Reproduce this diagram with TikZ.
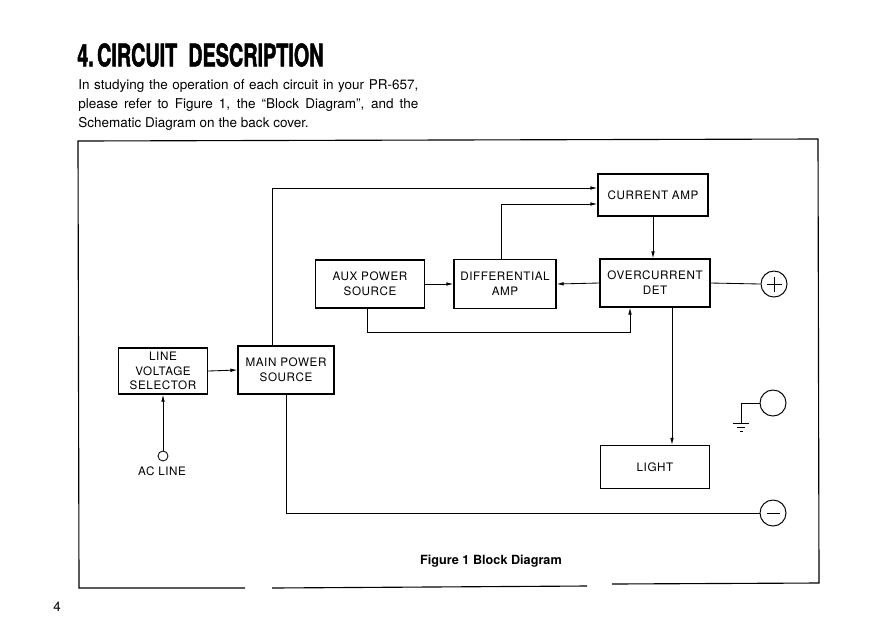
\documentclass[tikz,border=0pt]{standalone}
\usepackage{fontspec}
\setmainfont{TeX Gyre Heros}
\usepackage{tikz}
\usetikzlibrary{arrows.meta,calc}
\tikzset{
  blk/.style={rectangle, draw, line width=0.9pt, minimum width=2.75cm, minimum height=1.2cm,
              inner sep=1pt, font=\fontsize{8.3}{10.5}\selectfont\addfontfeatures{LetterSpace=5},
              align=center},
  tarr/.style={-{Latex[length=5pt,width=2.6pt]}, line width=0.6pt},
  tline/.style={line width=0.6pt},
  term/.style={circle, draw, line width=0.7pt, minimum size=0.65cm, inner sep=0pt},
}
\begin{document}
\begin{tikzpicture}[x=0.025cm, y=-0.025cm]
  \useasboundingbox (0,0) rectangle (893,634);

  % Heading and text
  \node[anchor=west, inner sep=0pt] (title) at (77,55)
    {\scalebox{0.64}[1]{\fontsize{22}{22}\selectfont\bfseries\addfontfeatures{FakeBold=2}4.\,CIRCUIT\ \ DESCRIPTION}};
  \node[anchor=north west, inner sep=0pt, align=left, font=\fontsize{9.6}{13.6}\selectfont] (intro) at (78,79)
    {\makebox[8.5cm][s]{In studying the operation of each circuit in your PR-657,}\\
     \makebox[8.5cm][s]{please refer to Figure 1, the ``Block Diagram'', and the}\\
     Schematic Diagram on the back cover.};

  % Frame
  \draw[line width=0.8pt] (245,588) -- (79,588) -- (78,141) -- (818,139) -- (819,583) -- (612,584);
  \draw[line width=0.8pt] (272,588) -- (587,586);

  % Blocks
  \node[blk, minimum height=1.05cm] (cur) at (653,195) {CURRENT AMP};
  \node[blk, minimum width=2.725cm] (aux)  at (370,284) {AUX POWER\\SOURCE};
  \node[blk, minimum width=2.55cm, minimum height=1.22cm] (diff) at (505,284) {DIFFERENTIAL\\AMP};
  \node[blk] (ocd) at (655,283) {OVERCURRENT\\DET};
  \node[blk, minimum width=2.225cm, minimum height=1.15cm] (sel) at (163,371) {LINE\\VOLTAGE\\SELECTOR};
  \node[blk, minimum width=2.4cm] (mps) at (286,370) {MAIN POWER\\SOURCE};
  \node[blk, minimum width=2.725cm, minimum height=1.075cm] (light) at (655,467) {LIGHT};

  % Terminals
  \node[term] (plus)  at (774,284) {};
  \node[term] (gnd)   at (773,403) {};
  \node[term] (minus) at (773,513) {};
  \node[circle, draw, line width=0.6pt, minimum size=0.25cm, inner sep=0pt] (ac) at (163,456) {};
  \draw[line width=0.7pt] ($(plus.west)+(6,0)$) -- ($(plus.east)+(-6,0)$)
                          ($(plus.north)+(0,6)$) -- ($(plus.south)+(0,-6)$);
  \draw[line width=0.7pt] ($(minus.west)+(7,0)$) -- ($(minus.east)+(-7,0)$);
  \coordinate (earth) at (741,423);
  \draw[tline] (gnd.west) -| (earth);
  \draw[line width=0.7pt] ($(earth)+(-8,0)$) -- ($(earth)+(8,0)$)
                          ($(earth)+(-4,4)$) -- ($(earth)+(4,4)$)
                          ($(earth)+(-1.5,8)$) -- ($(earth)+(1.5,8)$);

  % Connectors
  \draw[tarr] ($(mps.north)+(-14,0)$) |- ($(cur.west)+(0,-7)$);
  \draw[tarr] ($(diff.north)+(-4,0)$) |- ($(cur.west)+(0,9)$);
  \draw[tarr] (cur.south) -- (cur.south |- ocd.north);
  \draw[tarr] (aux.east) -- (diff.west);
  \draw[tarr] (ocd.west) -- (diff.east);
  \draw[tarr] ($(aux.south)+(-3,0)$) -- ++(0,24) -| ($(ocd.south)+(-25,0)$);
  \draw[tline] (ocd.east) -- (plus.west);
  \draw[tarr] ($(ocd.south)+(17,0)$) -- ($(light.north)+(17,0)$);
  \draw[tarr] (sel.east) -- (mps.west);
  \draw[tarr] (ac.north) -- (sel.south);
  \draw[tline] (mps.south) |- (minus.west);

  % Labels
  \node[font=\fontsize{8.3}{10}\selectfont\addfontfeatures{LetterSpace=5}] (aclabel) at (162,471) {AC LINE};
  \node[font=\fontsize{9}{10}\selectfont\bfseries] (caption) at (491,561) {Figure 1 Block Diagram};
  \node[font=\fontsize{9.5}{10}\selectfont] (page) at (57,607) {4};
\end{tikzpicture}
\end{document}
